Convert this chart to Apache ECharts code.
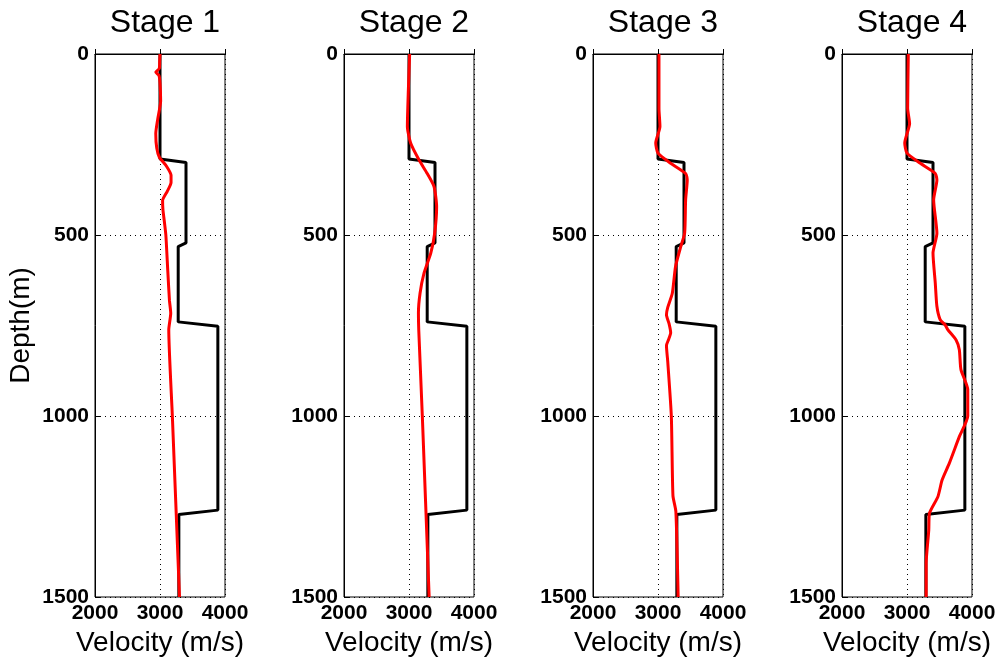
<!DOCTYPE html>
<html>
<head>
<meta charset="utf-8">
<script src="https://cdn.jsdelivr.net/npm/echarts@6/dist/echarts.min.js"></script>
<style>html,body{margin:0;padding:0;background:#fff}#c{width:1003px;height:662px}</style>
</head>
<body>
<div id="c"></div>
<script>
// True model (black)
const trueDepth = [0, 290, 300, 522, 532, 740, 752, 1260, 1272, 1500];
const trueVel   = [3000, 3000, 3400, 3400, 3280, 3280, 3890, 3890, 3290, 3290];

// Stage 1 inversion (red)
const s1Depth = [0, 20, 40, 50, 60, 80, 130, 180, 220, 260, 285, 310, 335, 355, 380, 405, 430, 460, 500, 600, 680, 716, 762, 1000, 1500];
const s1Vel   = [3000, 2995, 2990, 2935, 2985, 3000, 3010, 2965, 2935, 2950, 2990, 3100, 3170, 3170, 3110, 3040, 3045, 3065, 3090, 3120, 3145, 3165, 3135, 3190, 3300];

// Stage 2
const s2Depth = [0, 100, 200, 246, 293, 330, 366, 422, 495, 550, 606, 661, 716, 762, 1000, 1500];
const s2Vel   = [3010, 2990, 2975, 3025, 3155, 3280, 3385, 3425, 3395, 3335, 3230, 3170, 3145, 3150, 3205, 3310];

// Stage 3
const s3Depth = [0, 150, 200, 246, 274, 302, 330, 348, 403, 495, 532, 587, 661, 700, 720, 745, 770, 790, 805, 850, 1000, 1220, 1264, 1500];
const s3Vel   = [3015, 3015, 3030, 2965, 3000, 3195, 3425, 3450, 3425, 3410, 3350, 3270, 3220, 3150, 3130, 3170, 3195, 3160, 3130, 3150, 3205, 3230, 3275, 3310];

// Stage 4
const s4Depth = [0, 150, 192, 246, 274, 302, 330, 348, 403, 495, 550, 633, 697, 734, 748, 762, 790, 817, 872, 927, 1000, 1057, 1131, 1177, 1223, 1269, 1315, 1407, 1500];
const s4Vel   = [3020, 3010, 3040, 2965, 3000, 3205, 3435, 3460, 3410, 3460, 3400, 3435, 3460, 3510, 3585, 3630, 3755, 3805, 3830, 3935, 3935, 3805, 3650, 3540, 3475, 3345, 3335, 3295, 3295];

const stageTitles = ['Stage 1', 'Stage 2', 'Stage 3', 'Stage 4'];
const xTicks = [2000, 3000, 4000];
const yTicks = [0, 500, 1000, 1500];

const stages = [[s1Depth, s1Vel], [s2Depth, s2Vel], [s3Depth, s3Vel], [s4Depth, s4Vel]];
const pair = (vels, depths) => vels.map((v, i) => [v, depths[i]]);

const lefts = [95, 344, 593, 842];
const W = 130, TOP = 54, H = 543;
const FONT = 'Liberation Sans, Arial, sans-serif';

const grids = [], xAxes = [], yAxes = [], series = [], titles = [];
lefts.forEach((l, i) => {
  grids.push({left: l, top: TOP, width: W, height: H, show: true, borderColor: '#000', borderWidth: 1, backgroundColor: '#fff'});
  titles.push({text: stageTitles[i], left: l + W / 2, top: 2, textAlign: 'center',
    textStyle: {fontFamily: FONT, fontSize: 32, fontWeight: 'normal', color: '#000'}});
  xAxes.push({type: 'value', gridIndex: i, min: xTicks[0], max: xTicks[xTicks.length - 1], interval: 1000,
    name: 'Velocity (m/s)', nameLocation: 'middle', nameGap: 31,
    nameTextStyle: {fontFamily: FONT, fontSize: 28, color: '#000'},
    axisLine: {show: true, lineStyle: {color: '#000', width: 1}},
    axisTick: {show: true, inside: true, length: 5, lineStyle: {color: '#000'}},
    axisLabel: {fontFamily: FONT, fontSize: 21, fontWeight: 'bold', color: '#000', margin: 6, formatter: v => String(v)},
    splitLine: {show: true, lineStyle: {color: '#000', width: 1, type: [1, 4]}}});
  yAxes.push({type: 'value', gridIndex: i, min: yTicks[0], max: yTicks[yTicks.length - 1], interval: 500, inverse: true,
    name: i === 0 ? 'Depth(m)' : '', nameLocation: 'middle', nameGap: 60,
    nameTextStyle: {fontFamily: FONT, fontSize: 28, color: '#000'},
    axisLine: {show: true, lineStyle: {color: '#000', width: 1}},
    axisTick: {show: true, inside: true, length: 5, lineStyle: {color: '#000'}},
    axisLabel: {fontFamily: FONT, fontSize: 21, fontWeight: 'bold', color: '#000', margin: 6, formatter: v => String(v)},
    splitLine: {show: true, lineStyle: {color: '#000', width: 1, type: [1, 4]}}});
  series.push({type: 'line', xAxisIndex: i, yAxisIndex: i, data: pair(trueVel, trueDepth),
    showSymbol: false, symbol: 'none', lineStyle: {color: '#000', width: 3}, animation: false, z: 2});
  series.push({type: 'line', xAxisIndex: i, yAxisIndex: i, data: pair(stages[i][1], stages[i][0]),
    showSymbol: false, symbol: 'none', smooth: 0.2, lineStyle: {color: '#ff0000', width: 3}, animation: false, z: 3});
});

const chart = echarts.init(document.getElementById('c'), null, {renderer: 'canvas'});
chart.setOption({animation: false, backgroundColor: '#fff', title: titles, grid: grids, xAxis: xAxes, yAxis: yAxes, series: series});
</script>
</body>
</html>
